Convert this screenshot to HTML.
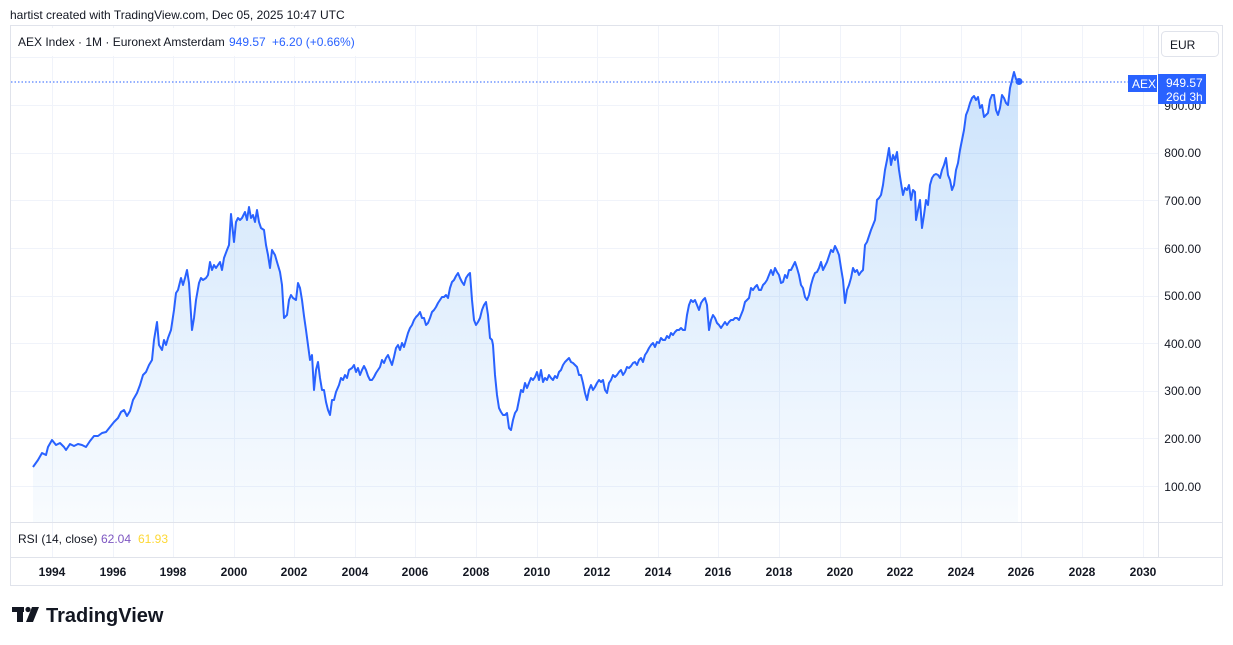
<!DOCTYPE html>
<html><head><meta charset="utf-8"><style>
html,body{margin:0;padding:0;background:#fff;width:1233px;height:645px;overflow:hidden;font-family:"Liberation Sans","DejaVu Sans",sans-serif}
</style></head><body>
<svg width="1233" height="645" xmlns="http://www.w3.org/2000/svg" font-family="Liberation Sans, DejaVu Sans, sans-serif">
<defs><linearGradient id="g" x1="0" y1="0" x2="0" y2="1"><stop offset="0" stop-color="#2a8af0" stop-opacity="0.24"/><stop offset="1" stop-color="#2a8af0" stop-opacity="0.03"/></linearGradient></defs>
<text x="10" y="19" font-size="12" fill="#131722">hartist created with TradingView.com, Dec 05, 2025 10:47 UTC</text>
<rect x="10.5" y="25.5" width="1212" height="560" fill="none" stroke="#e0e3eb"/>
<g stroke="#f0f3fa" stroke-width="1">
<line x1="11" x2="1158" y1="57.5" y2="57.5"/><line x1="11" x2="1158" y1="105.5" y2="105.5"/><line x1="11" x2="1158" y1="153.5" y2="153.5"/><line x1="11" x2="1158" y1="200.5" y2="200.5"/><line x1="11" x2="1158" y1="248.5" y2="248.5"/><line x1="11" x2="1158" y1="296.5" y2="296.5"/><line x1="11" x2="1158" y1="343.5" y2="343.5"/><line x1="11" x2="1158" y1="391.5" y2="391.5"/><line x1="11" x2="1158" y1="438.5" y2="438.5"/><line x1="11" x2="1158" y1="486.5" y2="486.5"/>
<line x1="52.5" x2="52.5" y1="26" y2="557"/><line x1="113.5" x2="113.5" y1="26" y2="557"/><line x1="173.5" x2="173.5" y1="26" y2="557"/><line x1="234.5" x2="234.5" y1="26" y2="557"/><line x1="294.5" x2="294.5" y1="26" y2="557"/><line x1="355.5" x2="355.5" y1="26" y2="557"/><line x1="415.5" x2="415.5" y1="26" y2="557"/><line x1="476.5" x2="476.5" y1="26" y2="557"/><line x1="537.5" x2="537.5" y1="26" y2="557"/><line x1="597.5" x2="597.5" y1="26" y2="557"/><line x1="658.5" x2="658.5" y1="26" y2="557"/><line x1="718.5" x2="718.5" y1="26" y2="557"/><line x1="779.5" x2="779.5" y1="26" y2="557"/><line x1="840.5" x2="840.5" y1="26" y2="557"/><line x1="900.5" x2="900.5" y1="26" y2="557"/><line x1="961.5" x2="961.5" y1="26" y2="557"/><line x1="1021.5" x2="1021.5" y1="26" y2="557"/><line x1="1082.5" x2="1082.5" y1="26" y2="557"/><line x1="1143.5" x2="1143.5" y1="26" y2="557"/>
</g>
<line x1="11" x2="1222" y1="522.5" y2="522.5" stroke="#e0e3eb"/>
<line x1="11" x2="1222" y1="557.5" y2="557.5" stroke="#e0e3eb"/>
<line x1="1158.5" x2="1158.5" y1="26" y2="557" stroke="#e0e3eb"/>
<polygon id="area" fill="url(#g)" points=""/>
<polyline id="ln" fill="none" stroke="#2962ff" stroke-width="2" stroke-linejoin="round" points="33,467 38,460 42,453 46,455 48,447 52,440 56,445 60,443 64,447 66,450 70,444 74,446 78,444 82,445 86,447 90,441 94,436 98,436 102,433 106,432 110,427 114,422 118,418 121,412 124,410 127,416 130,411 133,400 137,393 140,385 143,375 146,372 149,365 152,360 154,340 157,322 159,345 162,350 164,340 166,345 168,338 171,330 174,310 176,293 178,290 181,278 183,285 185,278 187,270 189,283 192,330 194,318 196,300 199,283 201,278 203,280 206,278 208,275 210,262 212,270 214,265 216,268 218,265 220,262 222,270 224,258 227,250 229,245 231,214 234,242 236,222 238,218 240,220 242,218 245,212 247,220 249,207 251,218 253,215 255,222 257,210 259,222 261,228 264,230 266,245 268,255 270,268 272,250 275,255 277,262 280,272 282,285 284,318 287,315 289,300 291,295 293,298 296,300 298,283 300,288 302,300 304,316 306,330 308,345 310,360 312,355 314,390 316,370 318,362 320,378 322,390 324,390 326,402 328,410 330,415 332,400 334,400 336,392 339,385 341,378 343,380 345,375 347,378 349,370 352,368 354,365 356,372 358,368 360,375 362,370 364,366 366,370 368,376 370,380 372,380 374,377 376,373 378,370 380,367 382,360 384,363 386,358 388,355 390,360 392,365 394,357 396,348 398,345 400,350 402,343 404,347 406,340 408,333 410,328 412,325 414,320 416,317 418,315 420,312 422,318 424,318 426,325 428,323 430,318 432,312 434,310 436,307 438,303 440,300 442,297 444,297 446,295 448,298 450,288 452,282 454,280 456,276 458,273 460,278 462,282 464,285 466,278 468,275 470,273 472,300 474,320 476,325 478,322 480,318 482,310 484,305 486,302 488,315 490,338 492,340 493,345 495,375 497,395 499,408 501,412 503,415 505,415 507,413 509,428 511,430 513,420 515,413 517,410 519,400 521,390 523,392 525,383 527,388 529,383 531,378 533,380 535,377 537,372 539,380 541,370 543,382 545,378 547,380 549,375 551,378 553,380 555,376 557,378 559,372 561,370 563,365 565,362 567,360 569,358 571,362 573,363 575,365 577,367 579,375 581,375 583,383 585,393 587,400 589,390 591,385 593,390 595,387 597,383 599,380 601,382 603,380 605,390 607,393 609,383 611,380 613,375 615,377 617,375 619,372 621,370 623,375 625,372 627,367 629,368 631,366 633,363 635,362 637,365 639,360 641,358 643,362 645,355 647,352 649,348 651,345 653,343 655,347 657,342 659,343 661,338 663,340 665,340 667,336 669,338 671,333 673,335 675,332 677,330 679,330 681,328 683,330 685,330 687,315 689,305 691,300 693,302 695,300 697,305 699,310 701,303 703,300 705,298 707,305 709,330 711,320 713,315 715,318 717,323 719,325 721,328 723,325 725,322 727,325 729,322 731,320 733,320 735,318 737,318 739,320 741,315 743,310 745,302 747,300 749,298 751,288 753,290 755,287 757,285 759,290 761,290 763,285 765,283 767,280 769,275 771,270 773,275 775,268 777,272 779,275 781,283 783,282 785,275 787,278 789,270 791,270 793,266 795,262 797,268 799,275 801,285 803,288 805,297 807,300 809,295 811,285 813,278 815,273 817,272 819,268 821,262 823,270 825,266 827,262 829,256 831,250 833,252 835,246 837,250 839,255 841,268 843,280 845,303 847,290 849,285 851,278 853,268 855,272 857,270 859,275 861,272 863,270 865,245 867,242 869,236 871,230 873,225 875,220 877,200 879,198 881,195 883,185 885,170 887,160 889,148 891,165 893,155 895,160 897,152 899,170 901,183 903,195 905,188 907,190 909,185 911,200 913,190 915,192 916,220 918,210 920,200 922,228 924,215 926,200 928,205 930,185 932,178 934,175 936,174 938,175 940,178 942,170 944,165 946,158 948,175 950,180 952,190 954,185 956,170 958,163 960,150 962,140 964,130 966,115 968,110 970,103 972,98 974,96 976,100 978,97 980,108 982,105 984,117 986,115 988,113 990,100 992,95 994,95 996,110 998,115 1000,108 1002,95 1004,98 1006,103 1008,105 1010,88 1012,80 1014,72 1016,79 1018,81"/>
<line x1="11" x2="1129" y1="82" y2="82" stroke="#2962ff" stroke-width="1" stroke-dasharray="1.5,2"/>
<circle cx="1019" cy="81.5" r="3.5" fill="#2962ff"/>
<rect x="11" y="28" width="345" height="28" fill="#fff" fill-opacity="0.9"/>
<text x="18" y="46" font-size="12" fill="#131722">AEX Index · 1M · Euronext Amsterdam</text>
<text x="229" y="46" font-size="12" fill="#2962ff">949.57</text>
<text x="272" y="46" font-size="12" fill="#2962ff">+6.20 (+0.66%)</text>
<rect x="1161.5" y="31.5" width="57" height="25" rx="4" fill="#fff" stroke="#e0e3eb"/>
<text x="1170" y="49" font-size="12" fill="#131722">EUR</text>
<g font-size="12" fill="#131722" text-anchor="end">
<text x="1201" y="110">900.00</text><text x="1201" y="157">800.00</text><text x="1201" y="205">700.00</text><text x="1201" y="253">600.00</text><text x="1201" y="300">500.00</text><text x="1201" y="348">400.00</text><text x="1201" y="395">300.00</text><text x="1201" y="443">200.00</text><text x="1201" y="491">100.00</text>
</g>
<rect x="1128" y="75" width="29" height="17" fill="#2962ff"/>
<text x="1132" y="88" font-size="12" fill="#fff">AEX</text>
<rect x="1158" y="74" width="48" height="30" fill="#2962ff"/>
<text x="1166" y="87" font-size="12" fill="#fff">949.57</text>
<text x="1166" y="101" font-size="12" fill="#fff">26d 3h</text>
<text x="18" y="543" font-size="12" fill="#131722">RSI (14, close)</text>
<text x="101" y="543" font-size="12" fill="#7e57c2">62.04</text>
<text x="138" y="543" font-size="12" fill="#fdd835">61.93</text>
<g font-size="12" font-weight="bold" fill="#131722" text-anchor="middle">
<text x="52" y="576">1994</text><text x="113" y="576">1996</text><text x="173" y="576">1998</text><text x="234" y="576">2000</text><text x="294" y="576">2002</text><text x="355" y="576">2004</text><text x="415" y="576">2006</text><text x="476" y="576">2008</text><text x="537" y="576">2010</text><text x="597" y="576">2012</text><text x="658" y="576">2014</text><text x="718" y="576">2016</text><text x="779" y="576">2018</text><text x="840" y="576">2020</text><text x="900" y="576">2022</text><text x="961" y="576">2024</text><text x="1021" y="576">2026</text><text x="1082" y="576">2028</text><text x="1143" y="576">2030</text>
</g>
<g fill="#131722">
<rect x="12" y="607" width="12" height="5"/><rect x="17" y="607" width="6" height="15"/>
<circle cx="28" cy="609.5" r="2.6"/>
<polygon points="32,607 39,607 33,622 26,622"/>
</g>
<text x="46" y="622" font-size="20" font-weight="bold" fill="#131722">TradingView</text>
</svg>
<script>
var p=document.getElementById('ln').getAttribute('points').trim();
document.getElementById('area').setAttribute('points','33,522 '+p+' 1018,522');
</script>
</body></html>
